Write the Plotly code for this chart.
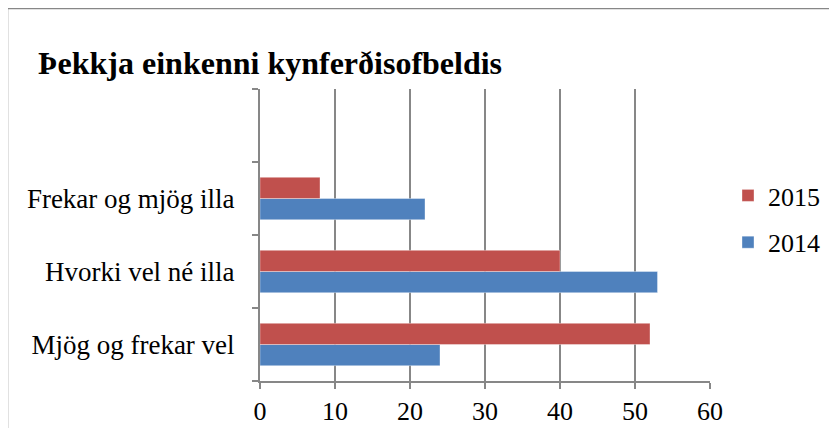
import plotly.graph_objects as go

categories = ["Mjög og frekar vel", "Hvorki vel né illa", "Frekar og mjög illa", " "]
values_2014 = [24, 53, 22, None]
values_2015 = [52, 40, 8, None]
x_ticks = [0, 10, 20, 30, 40, 50, 60]

# the page body has an 8px margin, so the figure is drawn 8px smaller and
# every reference pixel position is shifted by that offset
OFF = 8
W, H = 837 - OFF, 428 - OFF
L, R, T, B = 260 - OFF, 710 - OFF, 89 - OFF, 381 - OFF
grey = "#878787"
font_fam = "Liberation Serif, DejaVu Serif, serif"

fig = go.Figure()
fig.add_trace(go.Bar(y=categories, x=values_2014, name="2014", orientation="h",
                     marker=dict(color="#4F81BD", line=dict(color="rgba(255,255,255,0.6)", width=0.6)),
                     legendrank=2, legendgroup="g2014"))
fig.add_trace(go.Bar(y=categories, x=values_2015, name="2015", orientation="h",
                     marker=dict(color="#C0504D", line=dict(color="rgba(255,255,255,0.6)", width=0.6)),
                     legendrank=1, legendgroup="g2015"))

pw, ph = R - L, B - T
def px2paper_x(px):
    return (px - OFF - L) / pw
def px2paper_y(py):
    return (B - (py - OFF)) / ph

# outer chart frame (extends past right and bottom edges)
frame = dict(color=grey, width=1.5)
fig.add_shape(type="line", xref="paper", yref="paper",
              x0=px2paper_x(7.5), x1=px2paper_x(850), y0=px2paper_y(8.5), y1=px2paper_y(8.5), line=frame)
fig.add_shape(type="line", xref="paper", yref="paper",
              x0=px2paper_x(7.5), x1=px2paper_x(7.5), y0=px2paper_y(8.5), y1=px2paper_y(440), line=frame)

fig.update_layout(
    width=W, height=H,
    margin=dict(l=L, r=W - R, t=T, b=H - B, autoexpand=False),
    paper_bgcolor="white", plot_bgcolor="white",
    barmode="group", bargap=0.42, bargroupgap=0,
    font=dict(family=font_fam, size=26, color="black"),
    title=dict(text="<b>Þekkja einkenni kynferðisofbeldis</b>",
               font=dict(family=font_fam, size=32, color="black"),
               x=(38 - OFF) / W, xanchor="left", xref="container",
               y=1 - (63 - OFF) / H, yanchor="middle", yref="container"),
    legend=dict(x=px2paper_x(728), xanchor="left", y=px2paper_y(219), yanchor="middle",
                traceorder="grouped", tracegroupgap=10,
                font=dict(family=font_fam, size=26, color="black"),
                bgcolor="rgba(0,0,0,0)"),
    xaxis=dict(range=[0, 60], tickvals=x_ticks, showgrid=True, gridcolor=grey, gridwidth=2,
               showline=True, linecolor=grey, linewidth=2, zeroline=False, automargin=False,
               ticks="outside", ticklen=6, tickcolor=grey, tickwidth=2,
               tickfont=dict(family=font_fam, size=26, color="black")),
    yaxis=dict(type="category", categoryorder="array", categoryarray=categories,
               range=[-0.5, 3.5], tickson="boundaries", showgrid=False, automargin=False,
               showline=True, linecolor=grey, linewidth=2,
               ticks="outside", ticklen=6, tickcolor=grey, tickwidth=2,
               ticklabelstandoff=18,
               tickfont=dict(family=font_fam, size=27, color="black")),
)

fig.write_html("out.html")
